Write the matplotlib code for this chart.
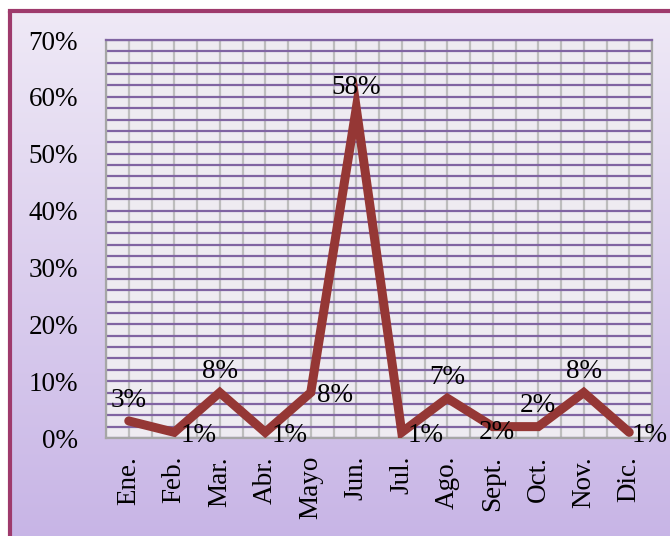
import matplotlib
matplotlib.use("Agg")
import matplotlib.pyplot as plt
import numpy as np
from matplotlib.lines import Line2D
from matplotlib.ticker import MultipleLocator, FuncFormatter

# data
months = ["Ene.", "Feb.", "Mar.", "Abr.", "Mayo", "Jun.",
          "Jul.", "Ago.", "Sept.", "Oct.", "Nov.", "Dic."]
values = [3, 1, 8, 1, 8, 58, 1, 7, 2, 2, 8, 1]
label_side = ["above", "right", "above", "right", "right", "above",
              "right", "above", "on", "above", "above", "edge"]

# label offsets in points (dx, dy)
side_offset = {"above": (0, 15), "right": (17.5, -2), "on": (3, -4),
               "edge": (15, -2)}

plt.rcParams['font.family'] = ['Liberation Serif', 'DejaVu Serif']
fs = 19.5

W, H = 670, 536
fig = plt.figure(figsize=(W / 100, H / 100), dpi=100)
fig.patch.set_facecolor("white")

# gradient background inside the frame
bg = fig.add_axes([10 / W, 0, 1 - 10 / W, 1 - 11 / H])
grad = np.linspace(0, 1, 256).reshape(-1, 1)
top = np.array([0.937, 0.914, 0.965])
bot = np.array([0.784, 0.710, 0.902])
img = top + (bot - top) * grad[:, :, None]
bg.imshow(img, aspect="auto", extent=[0, 1, 0, 1], origin="upper")
bg.set_axis_off()

# frame border
fc = "#9E3A6C"
fig.add_artist(Line2D([10 / W, 10 / W], [0, 1 - 11 / H], color=fc, lw=3,
                      transform=fig.transFigure, solid_capstyle="butt"))
fig.add_artist(Line2D([10 / W, 1], [1 - 11 / H, 1 - 11 / H], color=fc, lw=3,
                      transform=fig.transFigure, solid_capstyle="projecting"))

left, right, top_px, bottom_px = 106, 652, 40, 438
ax = fig.add_axes([left / W, 1 - bottom_px / H,
                   (right - left) / W, (bottom_px - top_px) / H])
ax.set_facecolor("#EEEBF1")

x = np.arange(len(months)) + 0.5
y = np.array(values) / 100.0

ax.set_xlim(0, len(months))
ax.set_ylim(0, 0.70)

ax.yaxis.set_major_locator(MultipleLocator(0.10))
ax.yaxis.set_minor_locator(MultipleLocator(0.02))
ax.yaxis.set_major_formatter(FuncFormatter(lambda v, p: "%d%%" % round(v * 100)))
ax.set_xticks(x)
ax.set_xticklabels(months, rotation=90, fontsize=fs)
ax.xaxis.set_minor_locator(MultipleLocator(0.5))

ax.yaxis.grid(True, which="both", color="#8064A2", lw=1.6)
ax.xaxis.grid(True, which="both", color="#BDBDBD", lw=1.6)
ax.set_axisbelow(True)
ax.tick_params(axis="both", which="both", length=0)
ax.tick_params(axis="y", labelsize=fs, pad=20)
ax.tick_params(axis="x", pad=13)

for s in ["left", "bottom", "right"]:
    ax.spines[s].set_color("#A6A6A6")
    ax.spines[s].set_linewidth(1.6)
ax.spines["top"].set_color("#8064A2")
ax.spines["top"].set_linewidth(1.6)

ax.plot(x, y, color="#953735", lw=6.5, solid_capstyle="round",
        solid_joinstyle="miter", zorder=3)

for xi, yi, v, side in zip(x, y, values, label_side):
    dx, dy = side_offset[side]
    ax.annotate("%d%%" % v, (xi, yi), xytext=(dx, dy), textcoords="offset points",
                ha="center", va="center", fontsize=fs, zorder=4,
                annotation_clip=False)

fig.savefig("out.png", dpi=100)
